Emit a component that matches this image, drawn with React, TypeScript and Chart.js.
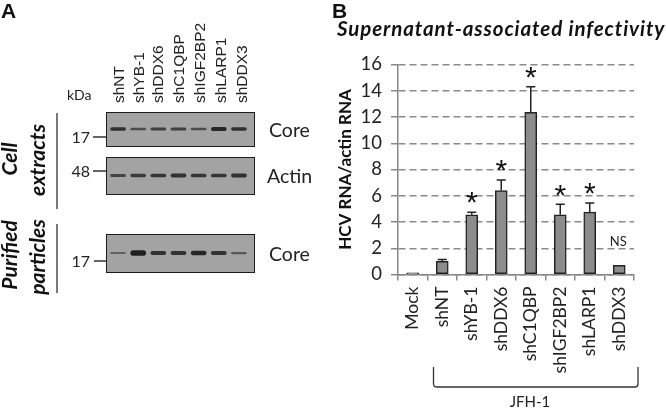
import React, { useEffect, useRef } from "react";
import { Chart, registerables } from "chart.js";

Chart.register(...registerables);

const categories = ["Mock", "shNT", "shYB-1", "shDDX6", "shC1QBP", "shIGF2BP2", "shLARP1", "shDDX3"];
const values = [0.12, 1.0, 4.55, 6.4, 12.35, 4.55, 4.75, 0.7];
const errorTops = [0.12, 1.15, 4.75, 7.2, 14.3, 5.35, 5.45, 0.7];
const marks = ["", "", "*", "*", "*", "*", "*", ""];
const yTicks = [0, 2, 4, 6, 8, 10, 12, 14, 16];

const lanes = ["shNT", "shYB-1", "shDDX6", "shC1QBP", "shIGF2BP2", "shLARP1", "shDDX3"];
const coreExtract = [0.9, 0.62, 0.75, 0.75, 0.6, 1.0, 0.9];
const actin = [0.7, 0.8, 0.85, 0.9, 0.85, 0.85, 0.9];
const corePurified = [0.4, 1.25, 0.88, 0.88, 1.0, 0.88, 0.5];

const FONT = "Lato, 'Open Sans', sans-serif";
const ARIAL = "'Liberation Sans', Arial, sans-serif";

const annotate = {
  id: "annotate",
  afterDatasetsDraw(chart: any) {
    const { ctx, scales } = chart;
    const x = scales.x;
    const y = scales.y;
    ctx.save();
    ctx.strokeStyle = "#222";
    ctx.lineWidth = 1.5;
    values.forEach((v, i) => {
      const px = x.getPixelForValue(i);
      const top = y.getPixelForValue(errorTops[i]);
      if (errorTops[i] > v) {
        ctx.beginPath();
        ctx.moveTo(px, y.getPixelForValue(v));
        ctx.lineTo(px, top);
        ctx.moveTo(px - 4.5, top);
        ctx.lineTo(px + 4.5, top);
        ctx.stroke();
      }
      if (marks[i]) {
        ctx.fillStyle = "#111";
        ctx.font = `30px ${ARIAL}`;
        ctx.textAlign = "center";
        ctx.textBaseline = "middle";
        ctx.fillText(marks[i], px, top - 8);
      }
    });
    ctx.fillStyle = "#222";
    ctx.font = `13px ${FONT}`;
    ctx.textAlign = "center";
    ctx.textBaseline = "middle";
    ctx.fillText("NS", x.getPixelForValue(7) - 1, y.getPixelForValue(2.5));
    ctx.strokeStyle = "#333";
    ctx.lineWidth = 1.3;
    ctx.beginPath();
    ctx.moveTo(433.5, 367);
    ctx.lineTo(433.5, 384);
    ctx.quadraticCurveTo(433.5, 387, 437, 387);
    ctx.lineTo(635, 387);
    ctx.quadraticCurveTo(638, 387, 638, 384);
    ctx.lineTo(638, 367);
    ctx.stroke();
    ctx.fillStyle = "#222";
    ctx.font = `15px ${FONT}`;
    ctx.fillText("JFH-1", 530, 402);

    ctx.textAlign = "left";
    ctx.textBaseline = "alphabetic";
    ctx.fillStyle = "#111";
    ctx.font = `bold 21px ${ARIAL}`;
    ctx.fillText("A", 1, 18);
    ctx.fillText("B", 332, 18);
    ctx.font = `italic bold 20.5px ${FONT}`;
    (ctx as any).letterSpacing = "0.9px";
    ctx.fillText("Supernatant-associated infectivity", 337, 36);
    (ctx as any).letterSpacing = "0px";

    ctx.font = `15.5px ${ARIAL}`;
    ctx.fillStyle = "#222";
    const laneX = [118, 138, 157, 178, 199, 220, 241];
    lanes.forEach((l, i) => {
      ctx.save();
      ctx.translate(laneX[i] + 5.5, 103);
      ctx.rotate(-Math.PI / 2);
      ctx.fillText(l, 0, 0);
      ctx.restore();
    });
    ctx.font = `14px ${FONT}`;
    ctx.fillText("kDa", 67, 100);
    ctx.font = `16px ${FONT}`;
    ctx.textAlign = "right";
    ctx.fillText("17", 90, 143);
    ctx.fillText("48", 90, 177);
    ctx.fillText("17", 90, 267);
    ctx.textAlign = "left";
    ctx.font = `19.5px ${FONT}`;
    ctx.fillText("Core", 269, 137);
    ctx.fillText("Actin", 267, 183);
    ctx.fillText("Core", 269, 261);
    ctx.strokeStyle = "#333";
    ctx.lineWidth = 1.3;
    ctx.beginPath();
    [[93, 137], [93, 171], [94, 261]].forEach(([a, b]) => {
      ctx.moveTo(a, b);
      ctx.lineTo(106, b);
    });
    ctx.moveTo(57, 113);
    ctx.lineTo(57, 209);
    ctx.moveTo(57, 224);
    ctx.lineTo(57, 293);
    ctx.stroke();
    ctx.font = `italic bold 21px ${FONT}`;
    ctx.fillStyle = "#111";
    ctx.textAlign = "center";
    ctx.textBaseline = "middle";
    [["Cell", 10, 159], ["extracts", 38, 160], ["Purified", 10, 255], ["particles", 38, 257]].forEach(([t, a, b]: any) => {
      ctx.save();
      ctx.translate(a, b);
      ctx.rotate(-Math.PI / 2);
      ctx.fillText(t, 0, 0);
      ctx.restore();
    });
    ctx.restore();
  },
};

function blotConfig(bands: number[]) {
  return {
    type: "bar",
    data: {
      labels: lanes,
      datasets: [
        {
          data: bands.map((b) => [-b, b]),
          backgroundColor: bands.map((b) => `rgba(25,25,25,${Math.min(0.95, 0.2 + b * 0.7)})`),
          barPercentage: 0.78,
          categoryPercentage: 1,
          borderRadius: 3,
          borderSkipped: false,
        },
      ],
    },
    options: {
      responsive: false,
      animation: false,
      layout: { padding: { left: 1, right: 4 } },
      plugins: { legend: { display: false }, tooltip: { enabled: false } },
      scales: {
        x: { display: false },
        y: { display: false, min: -8, max: 8 },
      },
    },
  };
}

const blotBox = (top: number, height: number): React.CSSProperties => ({
  position: "absolute",
  left: 106,
  top,
  width: 149,
  height,
  background: "#a3a3a3",
  boxSizing: "border-box",
  border: "1.5px solid #1c1c1c",
  overflow: "hidden",
});

export default function App() {
  const main = useRef<HTMLCanvasElement>(null);
  const b1 = useRef<HTMLCanvasElement>(null);
  const b2 = useRef<HTMLCanvasElement>(null);
  const b3 = useRef<HTMLCanvasElement>(null);

  useEffect(() => {
    document.body.style.margin = "0";
    const chart = new Chart(main.current as any, {
      type: "bar",
      data: {
        labels: categories,
        datasets: [
          {
            data: values,
            backgroundColor: "#8c8c8c",
            borderColor: "#222",
            borderWidth: 1.5,
            barThickness: 12,
            borderSkipped: false,
          },
        ],
      },
      options: {
        responsive: false,
        animation: false,
        layout: { padding: { left: 335, right: 32, top: 64.5, bottom: 0 } },
        plugins: { legend: { display: false }, tooltip: { enabled: false } },
        scales: {
          x: {
            afterFit: (s: any) => { s.height = 133.5; },
            grid: { drawOnChartArea: false, color: "#888", lineWidth: 1.5, tickLength: 6 },
            border: { color: "#888", width: 1.5 },
            ticks: { minRotation: 90, maxRotation: 90, color: "#222", padding: 6, font: { family: FONT, size: 17.5 } },
          },
          y: {
            min: 0,
            max: 16,
            afterFit: (s: any) => { s.width = 63; },
            afterBuildTicks: (s: any) => { s.ticks = yTicks.map((value) => ({ value })); },
            grid: {
              color: "#8a8a8a",
              lineWidth: 1.5,
              tickColor: "#888",
              tickLength: 7,
            },
            border: { color: "#888", width: 1.5, dash: [7, 4] },
            title: {
              display: true,
              text: "HCV RNA/actin RNA",
              color: "#111",
              padding: 0,
              font: { family: FONT, size: 17, weight: "bold" },
            },
            ticks: { color: "#222", padding: 9, font: { family: FONT, size: 18.5 } },
          },
        },
      },
      plugins: [annotate],
    } as any);
    const blots = [
      new Chart(b1.current as any, blotConfig(coreExtract) as any),
      new Chart(b2.current as any, blotConfig(actin) as any),
      new Chart(b3.current as any, blotConfig(corePurified) as any),
    ];
    return () => {
      chart.destroy();
      blots.forEach((b) => b.destroy());
    };
  }, []);

  const blurStyle: React.CSSProperties = { display: "block", filter: "blur(0.7px)" };
  return (
    <div style={{ position: "absolute", left: 0, top: 0, width: 666, height: 408, overflow: "hidden", background: "#fff" }}>
      <canvas ref={main} width={666} height={408} style={{ display: "block", filter: "blur(0.3px)" }} />
      <div style={blotBox(112, 35)}>
        <canvas ref={b1} width={146} height={32} style={blurStyle} />
      </div>
      <div style={blotBox(157, 38)}>
        <canvas ref={b2} width={146} height={35} style={blurStyle} />
      </div>
      <div style={blotBox(234, 39)}>
        <canvas ref={b3} width={146} height={36} style={blurStyle} />
      </div>
    </div>
  );
}
